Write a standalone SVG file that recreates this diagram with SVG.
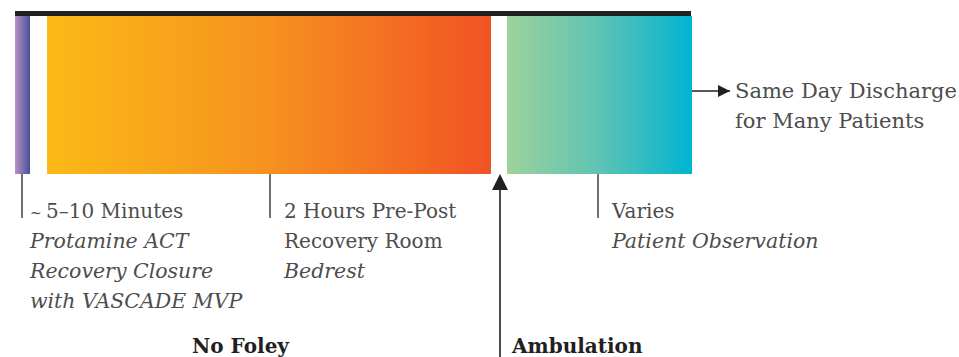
<svg xmlns="http://www.w3.org/2000/svg" width="959" height="357" viewBox="0 0 959 357">
  <defs>
    <linearGradient id="gPurple" x1="0" y1="0" x2="1" y2="0">
      <stop offset="0" stop-color="#b88fc3"/>
      <stop offset="1" stop-color="#4b4f9f"/>
    </linearGradient>
    <linearGradient id="gOrange" x1="0" y1="0" x2="1" y2="0">
      <stop offset="0" stop-color="#fbba16"/>
      <stop offset="0.5" stop-color="#f6911f"/>
      <stop offset="1" stop-color="#f15324"/>
    </linearGradient>
    <linearGradient id="gTeal" x1="0" y1="0" x2="1" y2="0">
      <stop offset="0" stop-color="#9dd29c"/>
      <stop offset="0.5" stop-color="#5ec3b4"/>
      <stop offset="1" stop-color="#00b4d2"/>
    </linearGradient>
    <marker id="tri" viewBox="0 0 10 10" refX="10" refY="5" markerWidth="12" markerHeight="12" markerUnits="userSpaceOnUse" orient="auto">
      <path d="M0,0 L10,5 L0,10 Z" fill="#231f20"/>
    </marker>
  </defs>
  <style>
    .t { font-family: "DejaVu Serif", "Liberation Serif", serif; font-size: 20px; fill: #4d4d4d; }
    .i { font-style: italic; font-size: 20.5px; }
    .big { font-size: 21px; }
    .tilde { font-size: 14px; }
    .b { font-family: "DejaVu Serif", "Liberation Serif", serif; font-size: 20px; font-weight: bold; fill: #231f20; }
    .tick { stroke: #4d4d4d; stroke-width: 1.6; }
    .conn { stroke: #231f20; stroke-width: 1.6; fill: none; }
  </style>

  <!-- timeline bars -->
  <g id="timeline">
    <rect x="15" y="11" width="676" height="5" fill="#231f20"/>
    <rect id="bar-closure" x="15" y="16" width="15" height="158" fill="url(#gPurple)"/>
    <rect id="bar-recovery" x="47" y="16" width="444" height="158" fill="url(#gOrange)"/>
    <rect id="bar-observation" x="507" y="16" width="185" height="158" fill="url(#gTeal)"/>
  </g>

  <!-- connectors -->
  <g id="connectors">
    <line class="tick" x1="22" y1="174" x2="22" y2="218"/>
    <line class="tick" x1="270" y1="174" x2="270" y2="218"/>
    <line class="tick" x1="598" y1="174" x2="598" y2="218"/>
    <line class="conn" x1="500" y1="357" x2="500" y2="190"/>
    <path d="M492,190 L500,174 L508,190 Z" fill="#231f20"/>
    <line class="conn" x1="692" y1="91" x2="730" y2="91" marker-end="url(#tri)"/>
  </g>

  <g id="label-closure">
    <text class="t" x="30" y="218"><tspan class="tilde">~</tspan><tspan x="46">5–10 Minutes</tspan></text>
    <text class="t i" x="30" y="248">Protamine ACT</text>
    <text class="t i" x="30" y="278">Recovery Closure</text>
    <text class="t i" x="30" y="308">with VASCADE MVP</text>
  </g>

  <g id="label-recovery">
    <text class="t" x="284" y="218">2 Hours Pre-Post</text>
    <text class="t" x="284" y="248">Recovery Room</text>
    <text class="t i" x="284" y="278">Bedrest</text>
  </g>

  <g id="label-observation">
    <text class="t" x="612" y="218">Varies</text>
    <text class="t i" x="612" y="248">Patient Observation</text>
  </g>

  <g id="label-discharge">
    <text class="t big" x="735" y="98">Same Day Discharge</text>
    <text class="t big" x="735" y="128">for Many Patients</text>
  </g>

  <g id="label-nofoley">
    <text class="b" x="192" y="353">No Foley</text>
  </g>

  <g id="label-ambulation">
    <text class="b" x="512" y="353">Ambulation</text>
  </g>
</svg>
